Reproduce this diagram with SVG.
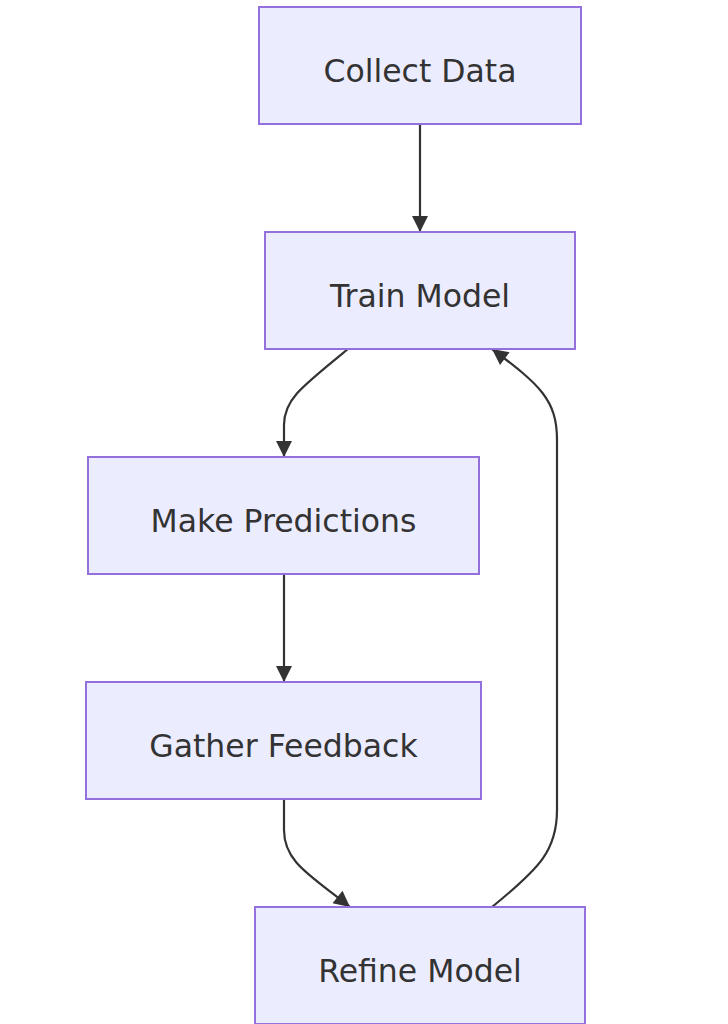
<svg xmlns="http://www.w3.org/2000/svg" width="728" height="1024" viewBox="0 0 728 1024">
<style>
.node rect{fill:#ECECFF;stroke:#9370DB;stroke-width:2}
.node text{font-family:"DejaVu Sans",Verdana,sans-serif;font-size:31.5px;fill:#333;text-anchor:middle;dominant-baseline:central}
.edges path{fill:none;stroke:#333;stroke-width:2.2}
</style>
<defs>
<marker id="arr" viewBox="0 0 10 10" refX="10" refY="5" markerWidth="17" markerHeight="16" markerUnits="userSpaceOnUse" orient="auto">
<path d="M0,0 L10,5 L0,10 z" fill="#333"/>
</marker>
</defs>
<rect width="728" height="1024" fill="#fff"/>
<g class="edges">
<path d="M420,124 L420,232" marker-end="url(#arr)"/>
<path d="M348,349 C300,388 284,400 284,425 L284,457" marker-end="url(#arr)"/>
<path d="M284,574 L284,682" marker-end="url(#arr)"/>
<path d="M284,799 L284,830 C284,862 310,875 350,907" marker-end="url(#arr)"/>
<path d="M492,907 C540,868 557,850 557,810 L557,440 C557,400 540,385 492,349" marker-end="url(#arr)"/>
</g>
<g id="collect" class="node"><rect x="259" y="7" width="322" height="117"/><text x="420" y="71">Collect Data</text></g>
<g id="train" class="node"><rect x="265" y="232" width="310" height="117"/><text x="420" y="296">Train Model</text></g>
<g id="predict" class="node"><rect x="88" y="457" width="391" height="117"/><text x="283.5" y="521">Make Predictions</text></g>
<g id="feedback" class="node"><rect x="86" y="682" width="395" height="117"/><text x="283.5" y="746">Gather Feedback</text></g>
<g id="refine" class="node"><rect x="255" y="907" width="330" height="117"/><text x="420" y="971">Refine Model</text></g>
</svg>
